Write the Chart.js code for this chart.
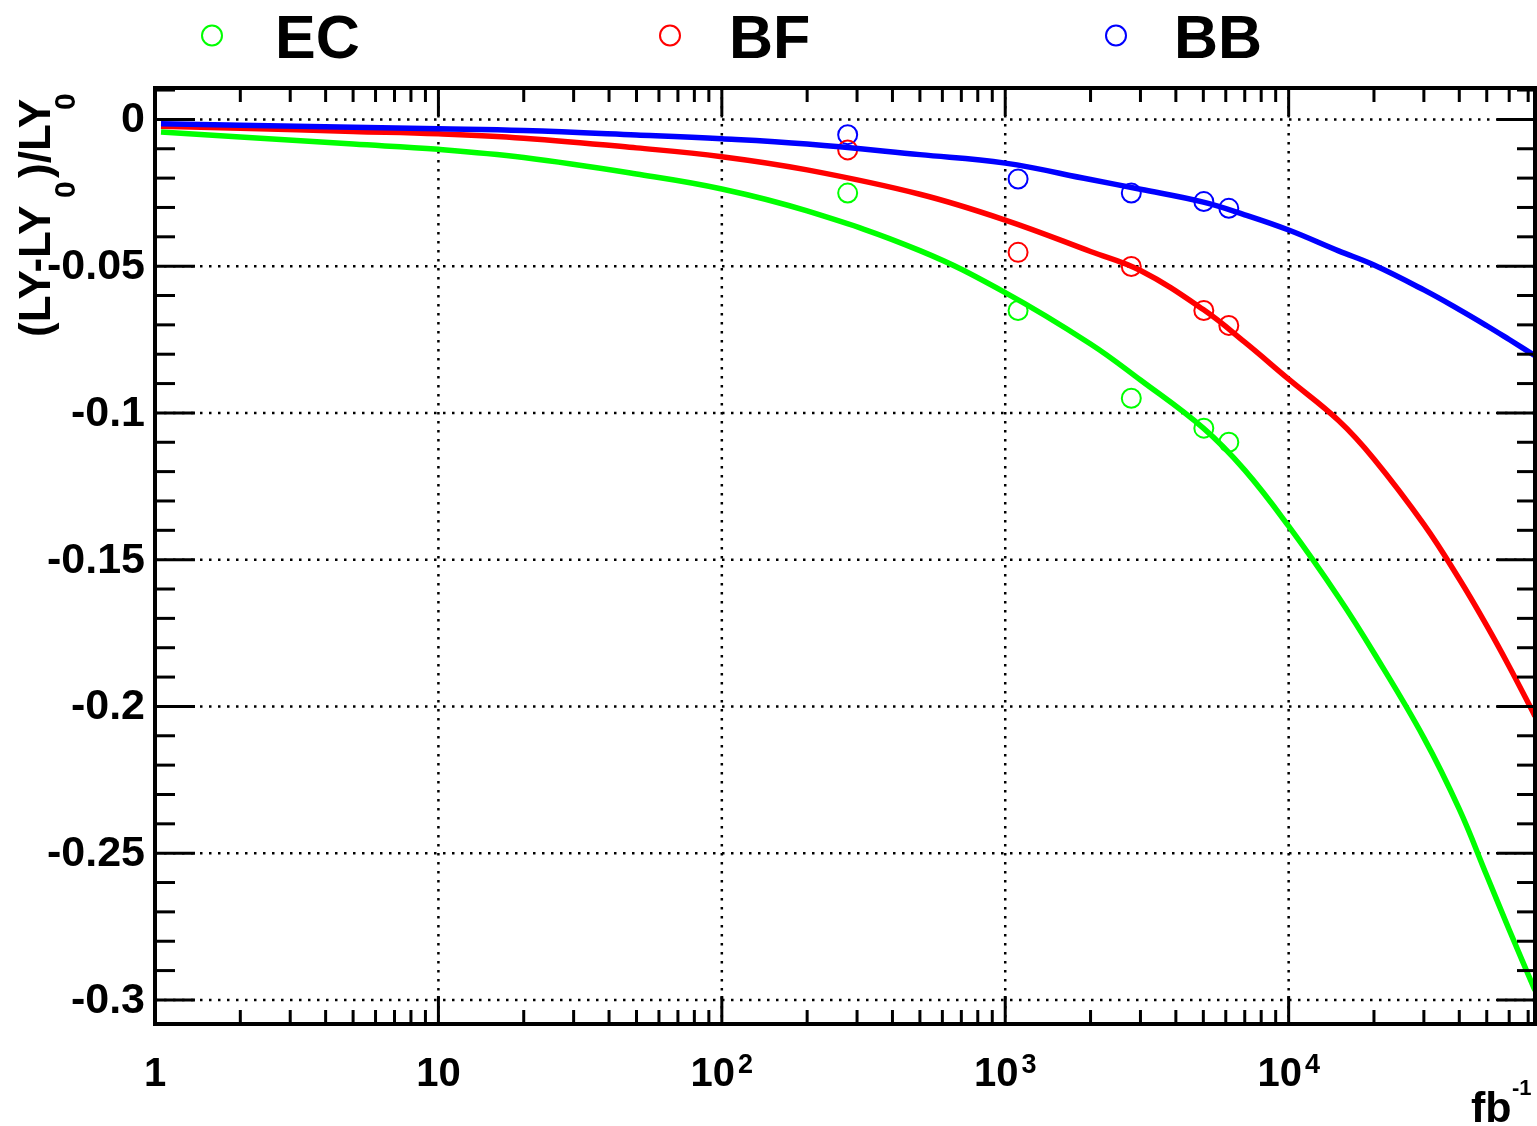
<!DOCTYPE html>
<html><head><meta charset="utf-8">
<script src="https://cdn.jsdelivr.net/npm/chart.js@4/dist/chart.umd.min.js"></script>
<style>html,body{margin:0;padding:0;background:#fff;overflow:hidden}#wrap{position:relative;width:1537px;height:1126px}</style>
</head><body><div id="wrap"><canvas id="c" width="1537" height="1126"></canvas></div>
<script>
// ---- data ----
const curveX  = [1.05,2,5,10,20,50,100,200,500,1000,2000,3000,5000,7000,10000,15000,20000,30000,40000,50000,60000,74000];
const curveEC = [-0.0043,-0.0060,-0.0084,-0.0102,-0.0130,-0.0186,-0.0237,-0.0312,-0.0447,-0.0590,-0.0765,-0.0888,-0.1052,-0.1195,-0.1386,-0.1628,-0.1818,-0.2107,-0.2350,-0.2576,-0.2761,-0.2968];
const curveBF = [-0.0023,-0.0030,-0.0041,-0.0049,-0.0064,-0.0097,-0.0127,-0.0172,-0.0255,-0.0343,-0.0450,-0.0515,-0.0648,-0.0759,-0.0885,-0.1026,-0.1157,-0.1380,-0.1566,-0.1725,-0.1864,-0.2033];
const curveBB = [-0.0015,-0.0020,-0.0027,-0.0032,-0.0038,-0.0053,-0.0066,-0.0084,-0.0120,-0.0149,-0.0205,-0.0238,-0.0282,-0.0325,-0.0377,-0.0448,-0.0496,-0.0581,-0.0648,-0.0703,-0.0750,-0.0805];
const pointX  = [278,1110,2785,5020,6150];
const pointEC = [-0.0251,-0.0651,-0.0950,-0.1052,-0.1100];
const pointBF = [-0.0104,-0.0453,-0.0501,-0.0651,-0.0702];
const pointBB = [-0.0052,-0.0203,-0.0251,-0.0280,-0.0303];
const seriesNames  = ['EC','BF','BB'];
const seriesColors = ['#00ff00','#ff0000','#0000ff'];
const xMajorTicks = [1,10,100,1000,10000];
const xTickBase   = ['1','10','10','10','10'];
const xTickExp    = ['','','2','3','4'];
const yMajorTicks = [0,-0.05,-0.1,-0.15,-0.2,-0.25,-0.3];
const yTickLabels = ['0','-0.05','-0.1','-0.15','-0.2','-0.25','-0.3'];
const yMinorStep = 0.01;
const xMin = 1, xMax = 74000, yMin = -0.3082, yMax = 0.0107;

const FONT = '"Liberation Sans", Arial, Helvetica, sans-serif';
function xy(xs, ys){ return xs.map((v,i)=>({x:v,y:ys[i]})); }

const curves = [curveEC, curveBF, curveBB];
const points = [pointEC, pointBF, pointBB];
const datasets = [];
// curves: blue on top, then red, then green
[2,1,0].forEach((s,k)=>{
  datasets.push({label:seriesNames[s]+' fit', data:xy(curveX,curves[s]), showLine:true, pointRadius:0,
    borderColor:seriesColors[s], borderWidth:5.5, tension:0.4, fill:false, order:k});
});
[0,1,2].forEach(s=>{
  datasets.push({label:seriesNames[s], data:xy(pointX,points[s]), showLine:false, pointRadius:9.5,
    pointStyle:'circle', borderColor:seriesColors[s], backgroundColor:'rgba(0,0,0,0)', borderWidth:2, order:5});
});

function seg(ctx,x1,y1,x2,y2){ctx.beginPath();ctx.moveTo(x1,y1);ctx.lineTo(x2,y2);ctx.stroke();}

const rootPlugin = {
  id:'rootStyle',
  beforeDatasetsDraw(chart){
    const {ctx, chartArea:a, scales:{x,y}} = chart;
    ctx.save();
    ctx.strokeStyle='#000'; ctx.lineWidth=2.5; ctx.setLineDash([2.5,6.5]);
    xMajorTicks.forEach(v=>{ if(v<=xMin) return; const p=x.getPixelForValue(v); seg(ctx,p,a.top,p,a.bottom); });
    yMajorTicks.forEach(v=>{ const p=y.getPixelForValue(v); seg(ctx,a.left,p,a.right,p); });
    ctx.restore();
  },
  afterDatasetsDraw(chart){
    const {ctx, chartArea:a, scales:{x,y}} = chart;
    ctx.save();
    ctx.strokeStyle='#000'; ctx.fillStyle='#000';
    // frame
    ctx.lineWidth=4; ctx.strokeRect(a.left,a.top,a.right-a.left,a.bottom-a.top);
    ctx.lineWidth=3;
    // y ticks
    const nMin = Math.ceil(yMin/yMinorStep-1e-9), nMax = Math.floor(yMax/yMinorStep+1e-9);
    for(let n=nMin;n<=nMax;n++){
      const v=n*yMinorStep, p=y.getPixelForValue(v);
      const major = Math.abs(n%5)===0;
      seg(ctx,a.left,p,a.left+(major?40:20),p);
      seg(ctx,a.right,p,a.right-(major?38:18),p);
    }
    // x ticks
    for(let d=0; Math.pow(10,d)<=xMax; d++){
      for(let k=1;k<=9;k++){
        const v=k*Math.pow(10,d); if(v<xMin||v>xMax) continue;
        const p=x.getPixelForValue(v); const L = k===1?28:14;
        seg(ctx,p,a.bottom,p,a.bottom-L);
        seg(ctx,p,a.top,p,a.top+L);
      }
    }
    // y tick labels
    ctx.font='bold 43px '+FONT; ctx.textAlign='right'; ctx.textBaseline='middle';
    yMajorTicks.forEach((v,i)=>{ ctx.fillText(yTickLabels[i], 145, y.getPixelForValue(v)+1); });
    // x tick labels
    ctx.textBaseline='alphabetic'; ctx.textAlign='left';
    xMajorTicks.forEach((v,i)=>{
      const p=x.getPixelForValue(v);
      ctx.font='bold 40px '+FONT; const w1=ctx.measureText(xTickBase[i]).width;
      let w2=0; if(xTickExp[i]){ ctx.font='bold 27px '+FONT; w2=ctx.measureText(xTickExp[i]).width+3; }
      const x0=p-(w1+w2)/2;
      ctx.font='bold 40px '+FONT; ctx.fillText(xTickBase[i], x0, 1086);
      if(xTickExp[i]){ ctx.font='bold 27px '+FONT; ctx.fillText(xTickExp[i], x0+w1+3, 1073); }
    });
    // x title
    ctx.font='bold 43px '+FONT; ctx.fillText('fb',1471,1122);
    ctx.font='bold 22px '+FONT; ctx.fillText('-1',1512,1095);
    // y title (rotated)
    ctx.save(); ctx.translate(50,337); ctx.rotate(-Math.PI/2);
    ctx.font='bold 44px '+FONT; ctx.fillText('(LY-LY',0,0);
    ctx.font='bold 30px '+FONT; ctx.fillText('0',139,25);
    ctx.font='bold 44px '+FONT; ctx.fillText(')/LY',159,0);
    ctx.font='bold 30px '+FONT; ctx.fillText('0',227,25);
    ctx.restore();
    // legend
    const legCx=[212,670,1116], legTx=[275,729,1174];
    seriesNames.forEach((n,i)=>{
      ctx.strokeStyle=seriesColors[i]; ctx.lineWidth=2;
      ctx.beginPath(); ctx.arc(legCx[i],35.5,10,0,Math.PI*2); ctx.stroke();
      ctx.fillStyle='#000'; ctx.font='bold 61px '+FONT; ctx.fillText(n,legTx[i],58);
    });
    ctx.restore();
  }
};

new Chart(document.getElementById('c'),{
  type:'scatter',
  data:{datasets},
  options:{
    responsive:false, animation:false, devicePixelRatio:1,
    layout:{autoPadding:false, padding:{left:155,top:88,right:2,bottom:102}},
    plugins:{legend:{display:false},tooltip:{enabled:false}},
    scales:{
      x:{type:'logarithmic',min:xMin,max:xMax,display:false},
      y:{type:'linear',min:yMin,max:yMax,display:false}
    }
  },
  plugins:[rootPlugin]
});
</script></body></html>
